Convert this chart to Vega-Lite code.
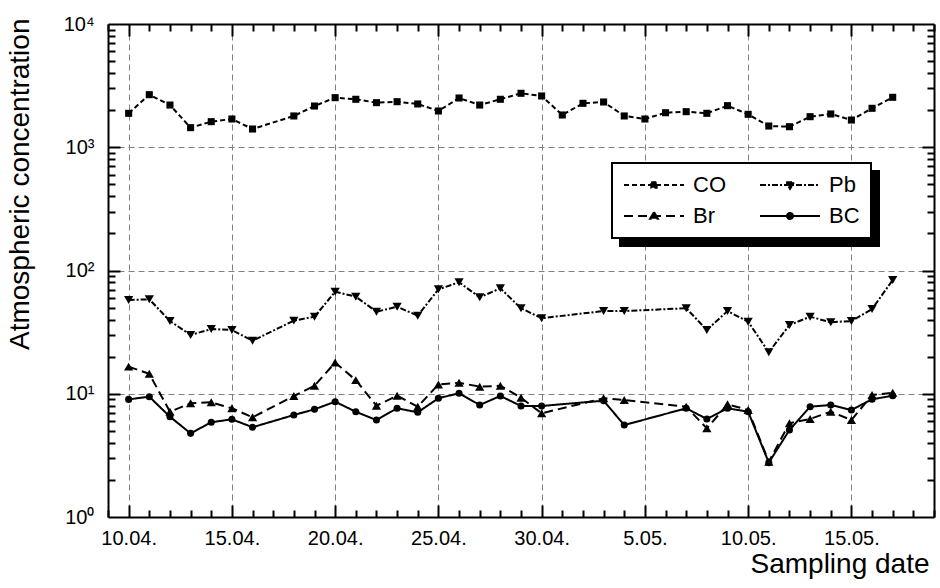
{
  "$schema": "https://vega.github.io/schema/vega-lite/v6.json",
  "width": 826,
  "height": 493,
  "autosize": "none",
  "padding": {"left": 108, "top": 24, "right": 6, "bottom": 71},
  "config": {
    "font": "Liberation Sans",
    "view": {"stroke": null},
    "axis": {
      "domainColor": "black", "domainWidth": 2,
      "labelColor": "black", "titleColor": "black",
      "labelFont": "Liberation Sans", "titleFont": "Liberation Sans",
      "labelFontSize": 20, "titleFontSize": 28, "titleFontWeight": "normal",
      "gridColor": "#808080", "gridDash": [6, 4], "gridWidth": 1,
      "labelOverlap": false, "labelFlush": false
    },
    "legend": {"labelFont": "Liberation Sans", "labelColor": "black"}
  },
  "data": {
    "values": [
      {"date": "2000-04-10", "CO": 1885, "Pb": 57.6, "Br": 16.6, "BC": 9.0},
      {"date": "2000-04-11", "CO": 2670, "Pb": 58.4, "Br": 14.5, "BC": 9.46},
      {"date": "2000-04-12", "CO": 2200, "Pb": 38.9, "Br": 7.15, "BC": 6.51},
      {"date": "2000-04-13", "CO": 1442, "Pb": 30.0, "Br": 8.36, "BC": 4.77},
      {"date": "2000-04-14", "CO": 1613, "Pb": 33.5, "Br": 8.52, "BC": 5.87},
      {"date": "2000-04-15", "CO": 1695, "Pb": 32.9, "Br": 7.62, "BC": 6.2},
      {"date": "2000-04-16", "CO": 1406, "Pb": 26.9, "Br": 6.44, "BC": 5.35},
      {"date": "2000-04-18", "CO": 1794, "Pb": 39.2, "Br": 9.59, "BC": 6.72},
      {"date": "2000-04-19", "CO": 2160, "Pb": 42.2, "Br": 11.6, "BC": 7.48},
      {"date": "2000-04-20", "CO": 2525, "Pb": 67.3, "Br": 17.9, "BC": 8.62},
      {"date": "2000-04-21", "CO": 2450, "Pb": 61.3, "Br": 12.9, "BC": 7.15},
      {"date": "2000-04-22", "CO": 2300, "Pb": 46.3, "Br": 8.0, "BC": 6.12},
      {"date": "2000-04-23", "CO": 2342, "Pb": 50.8, "Br": 9.64, "BC": 7.62},
      {"date": "2000-04-24", "CO": 2245, "Pb": 43.0, "Br": 7.85, "BC": 7.07},
      {"date": "2000-04-25", "CO": 1968, "Pb": 70.3, "Br": 11.9, "BC": 9.19},
      {"date": "2000-04-26", "CO": 2510, "Pb": 80.2, "Br": 12.3, "BC": 10.1},
      {"date": "2000-04-27", "CO": 2200, "Pb": 60.6, "Br": 11.4, "BC": 8.11},
      {"date": "2000-04-28", "CO": 2450, "Pb": 71.7, "Br": 11.6, "BC": 9.59},
      {"date": "2000-04-29", "CO": 2740, "Pb": 49.4, "Br": 9.29, "BC": 7.96},
      {"date": "2000-04-30", "CO": 2606, "Pb": 41.0, "Br": 6.94, "BC": 7.96},
      {"date": "2000-05-01", "CO": 1827},
      {"date": "2000-05-02", "CO": 2272},
      {"date": "2000-05-03", "CO": 2329, "Pb": 46.9, "Br": 9.19, "BC": 8.78},
      {"date": "2000-05-04", "CO": 1794, "Pb": 46.9, "Br": 8.89, "BC": 5.57},
      {"date": "2000-05-05", "CO": 1695},
      {"date": "2000-05-06", "CO": 1906},
      {"date": "2000-05-07", "CO": 1944, "Pb": 49.4, "Br": 7.85, "BC": 7.62},
      {"date": "2000-05-08", "CO": 1885, "Pb": 32.9, "Br": 5.24, "BC": 6.24},
      {"date": "2000-05-09", "CO": 2175, "Pb": 46.9, "Br": 8.21, "BC": 7.62},
      {"date": "2000-05-10", "CO": 1850, "Pb": 38.4, "Br": 7.38, "BC": 7.15},
      {"date": "2000-05-11", "CO": 1487, "Pb": 21.7, "Br": 2.81, "BC": 2.76},
      {"date": "2000-05-12", "CO": 1468, "Pb": 36.1, "Br": 5.76, "BC": 5.08},
      {"date": "2000-05-13", "CO": 1770, "Pb": 42.2, "Br": 6.24, "BC": 7.85},
      {"date": "2000-05-14", "CO": 1862, "Pb": 38.0, "Br": 7.15, "BC": 8.11},
      {"date": "2000-05-15", "CO": 1663, "Pb": 38.9, "Br": 6.12, "BC": 7.38},
      {"date": "2000-05-16", "CO": 2070, "Pb": 48.7, "Br": 9.77, "BC": 9.02},
      {"date": "2000-05-17", "CO": 2542, "Pb": 83.7, "Br": 10.2, "BC": 9.64}
    ]
  },
  "transform": [
    {"fold": ["CO", "Pb", "Br", "BC"], "as": ["series", "value"]},
    {"filter": "isValid(datum.value)"}
  ],
  "layer": [
    {
      "mark": {"type": "line", "color": "black", "strokeWidth": 2},
      "encoding": {
        "x": {
          "field": "date", "type": "temporal",
          "scale": {"type": "utc", "domain": [{"year": 2000, "month": 4, "date": 9, "utc": true}, {"year": 2000, "month": 5, "date": 19, "utc": true}]},
          "axis": {
            "orient": "bottom",
            "title": "Sampling date",
            "tickCount": {"interval": "day", "step": 1},
            "ticks": false,
            "labelExpr": "round((datum.value - utc(2000,3,10)) / 86400000) % 5 === 0 ? utcFormat(datum.value, '%-d.%m.') : ''",
            "labelPadding": 11,
            "labelBaseline": "top",
            "grid": true,
            "gridColor": {"condition": {"test": "round((datum.value - utc(2000,3,10)) / 86400000) % 5 === 0", "value": "#808080"}, "value": "#000000"},
            "gridDash": {"condition": {"test": "round((datum.value - utc(2000,3,10)) / 86400000) % 5 === 0", "value": [6, 4]}, "value": [7, 479, 7, 1000]},
            "gridWidth": {"condition": {"test": "round((datum.value - utc(2000,3,10)) / 86400000) % 5 === 0", "value": 1}, "value": 2},
            "titleX": 821, "titleY": 55, "titleAlign": "right", "titleBaseline": "alphabetic"
          }
        },
        "y": {
          "field": "value", "type": "quantitative",
          "scale": {"type": "log", "domain": [1, 10000], "nice": false},
          "axis": {
            "orient": "left",
            "title": "Atmospheric concentration",
            "values": [1,2,3,4,5,6,7,8,9,10,20,30,40,50,60,70,80,90,100,200,300,400,500,600,700,800,900,1000,2000,3000,4000,5000,6000,7000,8000,9000,10000],
            "ticks": false,
            "labelExpr": "datum.value === 1 ? '10⁰' : datum.value === 10 ? '10¹' : datum.value === 100 ? '10²' : datum.value === 1000 ? '10³' : datum.value === 10000 ? '10⁴' : ''",
            "labelPadding": 14, "labelAlign": "right", "labelBaseline": "middle",
            "grid": true,
            "gridOpacity": {"condition": {"test": "datum.value === 1 || datum.value === 10000", "value": 0}, "value": 1},
            "gridColor": {"condition": {"test": "datum.value === 10 || datum.value === 100 || datum.value === 1000", "value": "#808080"}, "value": "#000000"},
            "gridDash": {"condition": {"test": "datum.value === 10 || datum.value === 100 || datum.value === 1000", "value": [6, 4]}, "value": [7, 812, 7, 1000]},
            "gridWidth": {"condition": {"test": "datum.value === 10 || datum.value === 100 || datum.value === 1000", "value": 1}, "value": 2},
            "titleAngle": 270, "titleX": -80, "titleY": -6, "titleAlign": "right", "titleBaseline": "alphabetic"
          }
        },
        "strokeDash": {
          "field": "series", "type": "nominal",
          "scale": {"domain": ["CO", "Pb", "Br", "BC"], "range": [[5, 3], [6, 2, 2, 2], [9, 5], [1, 0]]},
          "legend": {
            "title": null, "orient": "none", "legendX": 504, "legendY": 139,
            "direction": "horizontal", "columns": 2, "symbolSize": 3600, "clipHeight": 22,
            "symbolStrokeWidth": 2, "symbolStrokeColor": "black", "symbolFillColor": "black",
            "labelFontSize": 22, "labelOffset": 8, "columnPadding": 33, "rowPadding": 9, "padding": 11,
            "fillColor": "white", "strokeColor": "black", "zindex": 2,
            "labelExpr": "datum.value === 'Pb' || datum.value === 'BC' ? datum.label + '\u00a0\u00a0' : datum.label",
            "encode": {
              "symbols": {"update": {
                "shape": {"signal": "datum.value === 'CO' ? 'M-1,0H1M-0.09,-0.09H0.09V0.09H-0.09Z' : datum.value === 'Pb' ? 'M-1,0H1M-0.13,-0.09H0.13L0,0.13Z' : datum.value === 'Br' ? 'M-1,0H1M0,-0.13L0.13,0.09H-0.13Z' : 'M-1,0H1M-0.1,0A0.1,0.1,0,1,1,0.1,0A0.1,0.1,0,1,1,-0.1,0Z'"},
                "fill": {"value": "black"},
                "stroke": {"value": "black"}
              }},
              "legend": {"update": {"strokeWidth": {"value": 2}}}
            }
          }
        }
      }
    },
    {
      "transform": [{"filter": "datum.series === 'CO' || datum.series === 'BC'"}],
      "mark": {"type": "point", "filled": true, "opacity": 1, "color": "black", "size": 50},
      "encoding": {
        "x": {"field": "date", "type": "temporal", "axis": null},
        "y": {"field": "value", "type": "quantitative", "axis": null},
        "shape": {
          "field": "series", "type": "nominal",
          "scale": {"domain": ["BC", "Br", "Pb", "CO"], "range": ["circle", "triangle-up", "triangle-down", "square"]},
          "legend": null
        }
      }
    },
    {
      "transform": [{"filter": "datum.series === 'Pb' || datum.series === 'Br'"}],
      "mark": {"type": "point", "filled": true, "opacity": 1, "color": "black", "size": 85},
      "encoding": {
        "x": {"field": "date", "type": "temporal", "axis": null},
        "y": {"field": "value", "type": "quantitative", "axis": null},
        "shape": {
          "field": "series", "type": "nominal",
          "scale": {"domain": ["BC", "Br", "Pb", "CO"], "range": ["circle", "triangle-up", "triangle-down", "square"]},
          "legend": null
        }
      }
    },
    {
      "mark": {"type": "point", "filled": true, "opacity": 0, "size": 10},
      "encoding": {
        "x": {
          "field": "date", "type": "temporal",
          "axis": {
            "orient": "top", "title": null, "labels": false, "ticks": false, "domain": true,
            "values": [
              {"year": 2000, "month": 4, "date": 10, "utc": true},
              {"year": 2000, "month": 4, "date": 15, "utc": true},
              {"year": 2000, "month": 4, "date": 20, "utc": true},
              {"year": 2000, "month": 4, "date": 25, "utc": true},
              {"year": 2000, "month": 4, "date": 30, "utc": true},
              {"year": 2000, "month": 5, "date": 5, "utc": true},
              {"year": 2000, "month": 5, "date": 10, "utc": true},
              {"year": 2000, "month": 5, "date": 15, "utc": true}
            ],
            "grid": true, "gridColor": "#000000", "gridWidth": 2, "gridOpacity": 1, "gridDash": [12, 469, 12, 1000]
          }
        },
        "y": {
          "field": "value", "type": "quantitative",
          "axis": {
            "orient": "right", "title": null, "labels": false, "ticks": false, "domain": true,
            "values": [10, 100, 1000],
            "grid": true, "gridColor": "#000000", "gridWidth": 2, "gridOpacity": 1, "gridDash": [12, 802, 12, 1000]
          }
        },
        "color": {
          "field": "series", "type": "nominal",
          "scale": {"domain": ["Br", "BC", "CO", "Pb"], "range": ["black", "black", "black", "black"]},
          "legend": {
            "title": null, "orient": "none", "legendX": 512, "legendY": 147,
            "direction": "horizontal", "columns": 2, "symbolSize": 3600, "clipHeight": 22,
            "symbolStrokeWidth": 2, "symbolOpacity": 0,
            "labelFontSize": 22, "labelOffset": 8, "columnPadding": 33, "rowPadding": 9, "padding": 11,
            "labelOpacity": 0,
            "fillColor": "black", "strokeColor": "black", "zindex": 1,
            "labelExpr": "datum.value === 'Pb' || datum.value === 'BC' ? datum.label + '\u00a0\u00a0' : datum.label",
            "encode": {"legend": {"update": {"strokeWidth": {"value": 2}}}}
          }
        }
      }
    }
  ],
  "resolve": {"axis": {"x": "independent", "y": "independent"}}
}
